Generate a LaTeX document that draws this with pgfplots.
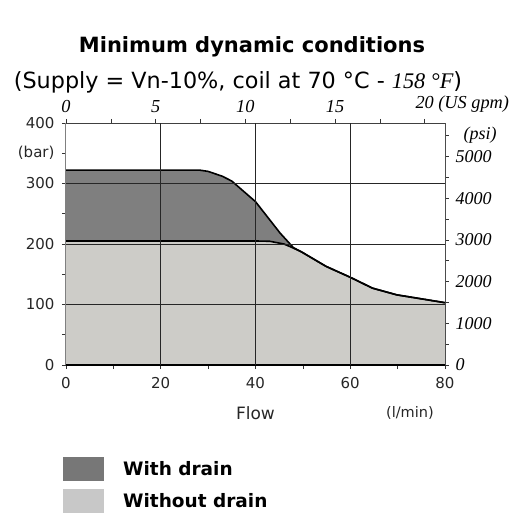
\documentclass[border=0pt]{standalone}
\usepackage{pgfplots}
\pgfplotsset{compat=1.18}
\usepackage{fontspec}
\setmainfont{DejaVu Sans}
\newfontfamily\tms{Liberation Serif}
\definecolor{darkfill}{HTML}{7F7F7F}
\definecolor{lightfill}{HTML}{CDCCC8}
\definecolor{legdark}{HTML}{777777}
\definecolor{leglight}{HTML}{C8C8C8}
\pgfplotsset{
  common/.style={
    scale only axis, width=379pt, height=242pt,
    at={(66pt,150pt)}, anchor=south west,
    tick align=outside, major tick length=4pt, minor tick length=4pt,
    tick style={black!80, line width=0.6pt},
  }
}
\begin{document}
\begin{tikzpicture}[x=1pt,y=1pt]
\useasboundingbox (0,0) rectangle (525,515);
\node[font=\fontsize{21}{25}\selectfont\bfseries] at (252,468) {Minimum dynamic conditions};
\node[font=\fontsize{22.3}{26}\selectfont] at (238,433) {(Supply = Vn-10\%, coil at 70 °C - {\tms\itshape 158 °F})};
% top axis (US gpm)
\begin{axis}[common,
  xmin=0, xmax=21.1338, ymin=0, ymax=400,
  axis x line*=top, axis y line=none,
  x axis line style={black!75, line width=0.7pt},
  xtick={0,5,...,20}, minor xtick={2.5,7.5,12.5,17.5},
  xticklabels={0,5,10,15,{20\rlap{ (US gpm)}}},
  xticklabel style={font=\fontsize{18.3}{21}\selectfont\tms\itshape, yshift=3pt},
]
\addplot[draw=none] coordinates {(0,0)};
\end{axis}
% right axis (psi)
\begin{axis}[common,
  xmin=0, xmax=80, ymin=0, ymax=5801.5,
  axis y line*=right, axis x line=none,
  y axis line style={black!70, line width=0.7pt},
  ytick={0,500,...,5500},
  yticklabels={0,,1000,,2000,,3000,,4000,,5000,{\hspace{8pt}(psi)}},
  yticklabel style={font=\fontsize{18}{21}\selectfont\tms\itshape, xshift=3pt},
]
\addplot[draw=none] coordinates {(0,0)};
\end{axis}
% main axis
\begin{axis}[common,
  clip=false,
  xmin=0, xmax=80, ymin=0, ymax=400,
  axis x line*=bottom, axis y line*=left,
  x axis line style={black, line width=1.3pt},
  y axis line style={black!50, line width=1pt},
  xtick={0,10,...,80}, xticklabels={0,,20,,40,,60,,80},
  ytick={0,50,...,400}, yticklabels={0,,100,,200,,300,(bar),400},
  ticklabel style={font=\fontsize{15}{18}\selectfont, text=black!85},
  xticklabel style={yshift=-5pt},
  yticklabel style={xshift=-4pt},
  extra x ticks={20,40,60}, extra x tick labels={},
  extra y ticks={100,200,300}, extra y tick labels={},
  extra tick style={grid=major, major tick length=0pt,
    major grid style={black!85, line width=0.6pt}},
  axis on top,
  legend style={at={(axis description cs:-0.008,-0.38)}, anchor=north west,
    draw=none, fill=none, inner sep=0pt, row sep=8pt,
    font=\fontsize{18.5}{21}\selectfont\bfseries,
    /tikz/every odd column/.append style={column sep=17pt}},
  legend cell align=left,
]
\addplot[fill=darkfill, draw=none,
  legend image code/.code={\fill[legdark] (0pt,-12pt) rectangle (41pt,12pt);}]
  coordinates {(0,322) (28.3,322) (30,320) (33,312) (35,304) (40,270) (45.2,218) (48,194) (49.7,187) (54.9,163) (60,145) (64.7,127) (69.8,116) (80,103)} \closedcycle;
\addlegendentry{With drain}
\addplot[fill=lightfill, draw=none,
  legend image code/.code={\fill[leglight] (0pt,-12pt) rectangle (41pt,12pt);}]
  coordinates {(0,205) (40,205) (43,204.5) (46,200) (47.5,195) (49.7,187) (54.9,163) (60,145) (64.7,127) (69.8,116) (80,103)} \closedcycle;
\addlegendentry{Without drain}
\addplot[black, line width=1.6pt, forget plot]
  coordinates {(0,322) (28.3,322) (30,320) (33,312) (35,304) (40,270) (45.2,218) (48,194) (49.7,187) (54.9,163) (60,145) (64.7,127) (69.8,116) (80,103)};
\addplot[black, line width=1.6pt, forget plot]
  coordinates {(0,205) (40,205) (43,204.5) (46,200) (47.5,195) (49.7,187) (54.9,163) (60,145) (64.7,127) (69.8,116) (80,103)};
\node[font=\fontsize{17}{20}\selectfont, text=black!85] at (axis cs:40,-79.5) {Flow};
\node[font=\fontsize{14.5}{17}\selectfont, text=black!85] at (axis cs:72.6,-79.5) {(l/min)};
\end{axis}
\end{tikzpicture}
\end{document}
